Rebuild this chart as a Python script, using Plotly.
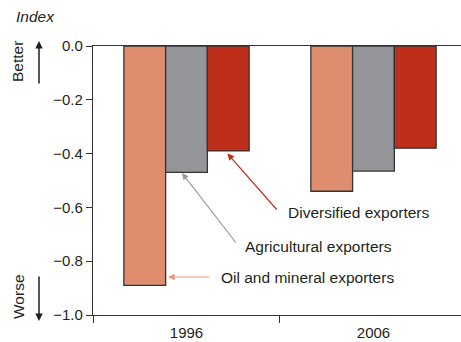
import plotly.graph_objects as go

years = ["1996", "2006"]
series_names = ["Oil and mineral exporters", "Agricultural exporters", "Diversified exporters"]
oil = [-0.89, -0.54]
agri = [-0.47, -0.465]
divers = [-0.39, -0.38]
colors = ["#DE8D6E", "#939598", "#BF2E1B"]
ytick_vals = [0.0, -0.2, -0.4, -0.6, -0.8, -1.0]
ytick_text = ["0.0", "\u22120.2", "\u22120.4", "\u22120.6", "\u22120.8", "\u22121.0"]

FONT = "Liberation Sans, Arial, Helvetica, sans-serif"
FS = 15.5

fig = go.Figure()
for name, vals, col in zip(series_names, [oil, agri, divers], colors):
    fig.add_trace(go.Bar(
        x=years, y=vals, name=name,
        marker=dict(color=col, line=dict(color="#333333", width=1.3)),
    ))

fig.update_layout(
    width=461, height=342,
    margin=dict(l=93, r=0, t=46, b=27),
    paper_bgcolor="white", plot_bgcolor="white",
    showlegend=False,
    barmode="group", bargap=0.33, bargroupgap=0,
    font=dict(family=FONT, size=FS, color="#231F20"),
    xaxis=dict(
        type="category", range=[-0.5, 1.468],
        showline=True, linecolor="#333333", linewidth=1.3, mirror=True,
        ticks="outside", tickson="boundaries", ticklen=7, tickcolor="#333333", tickwidth=1.3,
        showgrid=False, tickfont=dict(size=15), ticklabelstandoff=4,
    ),
    yaxis=dict(
        range=[-1.0, 0.0],
        tickvals=ytick_vals, ticktext=ytick_text,
        showline=True, linecolor="#333333", linewidth=1.3,
        ticks="outside", ticklen=6, tickcolor="#333333", tickwidth=1.3,
        showgrid=False, zeroline=False, tickfont=dict(size=15),
    ),
)

# Axis descriptors
fig.add_annotation(text="<i>Index</i>", xref="paper", yref="paper",
                   x=(14 - 93) / 368, y=(315 - 16) / 269, xanchor="left", yanchor="middle",
                   showarrow=False, font=dict(size=FS))
fig.add_annotation(text="Better", xref="paper", yref="paper",
                   x=(18 - 93) / 368, y=(315 - 62) / 269, xanchor="center", yanchor="middle",
                   textangle=-90, showarrow=False, font=dict(size=FS))
fig.add_annotation(text="Worse", xref="paper", yref="paper",
                   x=(18 - 93) / 368, y=(315 - 297) / 269, xanchor="center", yanchor="middle",
                   textangle=-90, showarrow=False, font=dict(size=FS))
fig.add_annotation(text="", xref="paper", yref="paper",
                   x=(39 - 93) / 368, y=(315 - 41) / 269, ax=0, ay=44,
                   showarrow=True, arrowhead=2, arrowsize=1, arrowwidth=1.5, arrowcolor="#231F20")
fig.add_annotation(text="", xref="paper", yref="paper",
                   x=(39 - 93) / 368, y=(315 - 321) / 269, ax=0, ay=-46,
                   showarrow=True, arrowhead=2, arrowsize=1, arrowwidth=1.5, arrowcolor="#231F20")

def px_to_x(px):
    return -0.5 + (px - 93) / 187.0

def px_to_y(py):
    return -(py - 46) / 269.0

labels = [
    ("Diversified exporters", (227.5, 153.5), (278, 211), 286, 212, "#BF2E1B"),
    ("Agricultural exporters", (182, 173), (237, 244), 243, 246, "#9A9A9A"),
    ("Oil and mineral exporters", (168, 277), (211, 277), 219, 277, "#E8957A"),
]
for text, head, tail, tx, ty, col in labels:
    fig.add_annotation(text="", x=px_to_x(head[0]), y=px_to_y(head[1]),
                       ax=tail[0] - head[0], ay=tail[1] - head[1],
                       showarrow=True, arrowhead=2, arrowsize=1.1, arrowwidth=1.2, arrowcolor=col)
    fig.add_annotation(text=text, x=px_to_x(tx), y=px_to_y(ty),
                       xanchor="left", yanchor="middle", showarrow=False,
                       font=dict(size=FS))

fig.write_html("out.html", config={"displayModeBar": False},
               post_script="document.body.style.margin='0';")
